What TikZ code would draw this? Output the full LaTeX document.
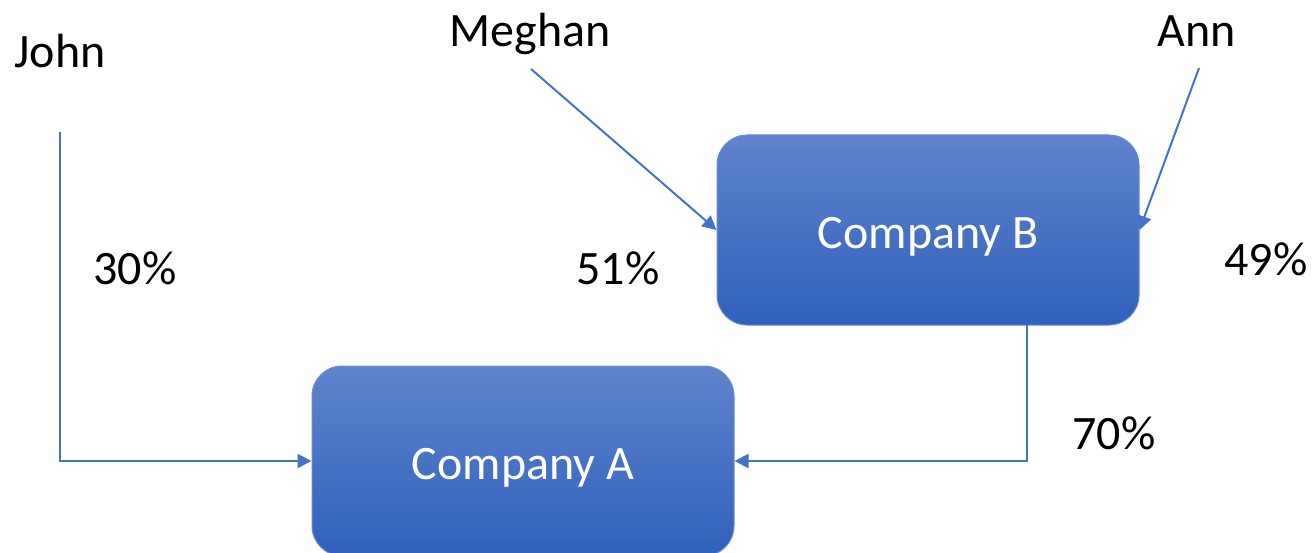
\documentclass[tikz,border=0pt]{standalone}
\usepackage{fontspec}
\setmainfont{Carlito}
\usetikzlibrary{arrows.meta}
\definecolor{lineblue}{HTML}{4472C4}
\definecolor{boxtop}{HTML}{5F83CC}
\definecolor{boxbot}{HTML}{3062BC}
\begin{document}
\begin{tikzpicture}[x=1pt,y=-1pt,
  company/.style={draw=lineblue!80!white, line width=1pt, top color=boxtop, bottom color=boxbot,
    rounded corners=30pt, minimum width=422pt, minimum height=190pt, inner sep=0pt,
    text=white, font=\fontsize{48}{58}\selectfont},
  lbl/.style={anchor=base, inner sep=0pt, font=\fontsize{48}{58}\selectfont},
  conn/.style={draw=lineblue, line width=2pt, -{Triangle[length=14pt,width=14pt]}}]
\useasboundingbox (0,0) rectangle (1314,553);
\node[company] (A) at (523,461) {};
\node[company] (B) at (928,230) {};
\node[lbl, text=white] (Atext) at (523,479) {Company A};
\node[lbl, text=white] (Btext) at (928,249) {Company B};
\node[lbl] (john) at (60,68) {John};
\node[lbl] (meghan) at (530,47) {Meghan};
\node[lbl] (ann) at (1197,47) {Ann};
\node[lbl] (p30) at (135,285) {30\%};
\node[lbl] (p51) at (618,285) {51\%};
\node[lbl] (p49) at (1266,276) {49\%};
\node[lbl] (p70) at (1114,449) {70\%};
\coordinate (js) at (60,132);
\coordinate (bs) at (1027,325);
\coordinate (ms) at (531,69);
\coordinate (as) at (1199,68);
\draw[conn] (js) |- (A.west);
\draw[conn] (bs) |- (A.east);
\draw[conn] (ms) -- (B.west);
\draw[conn] (as) -- (B.east);
\end{tikzpicture}
\end{document}
